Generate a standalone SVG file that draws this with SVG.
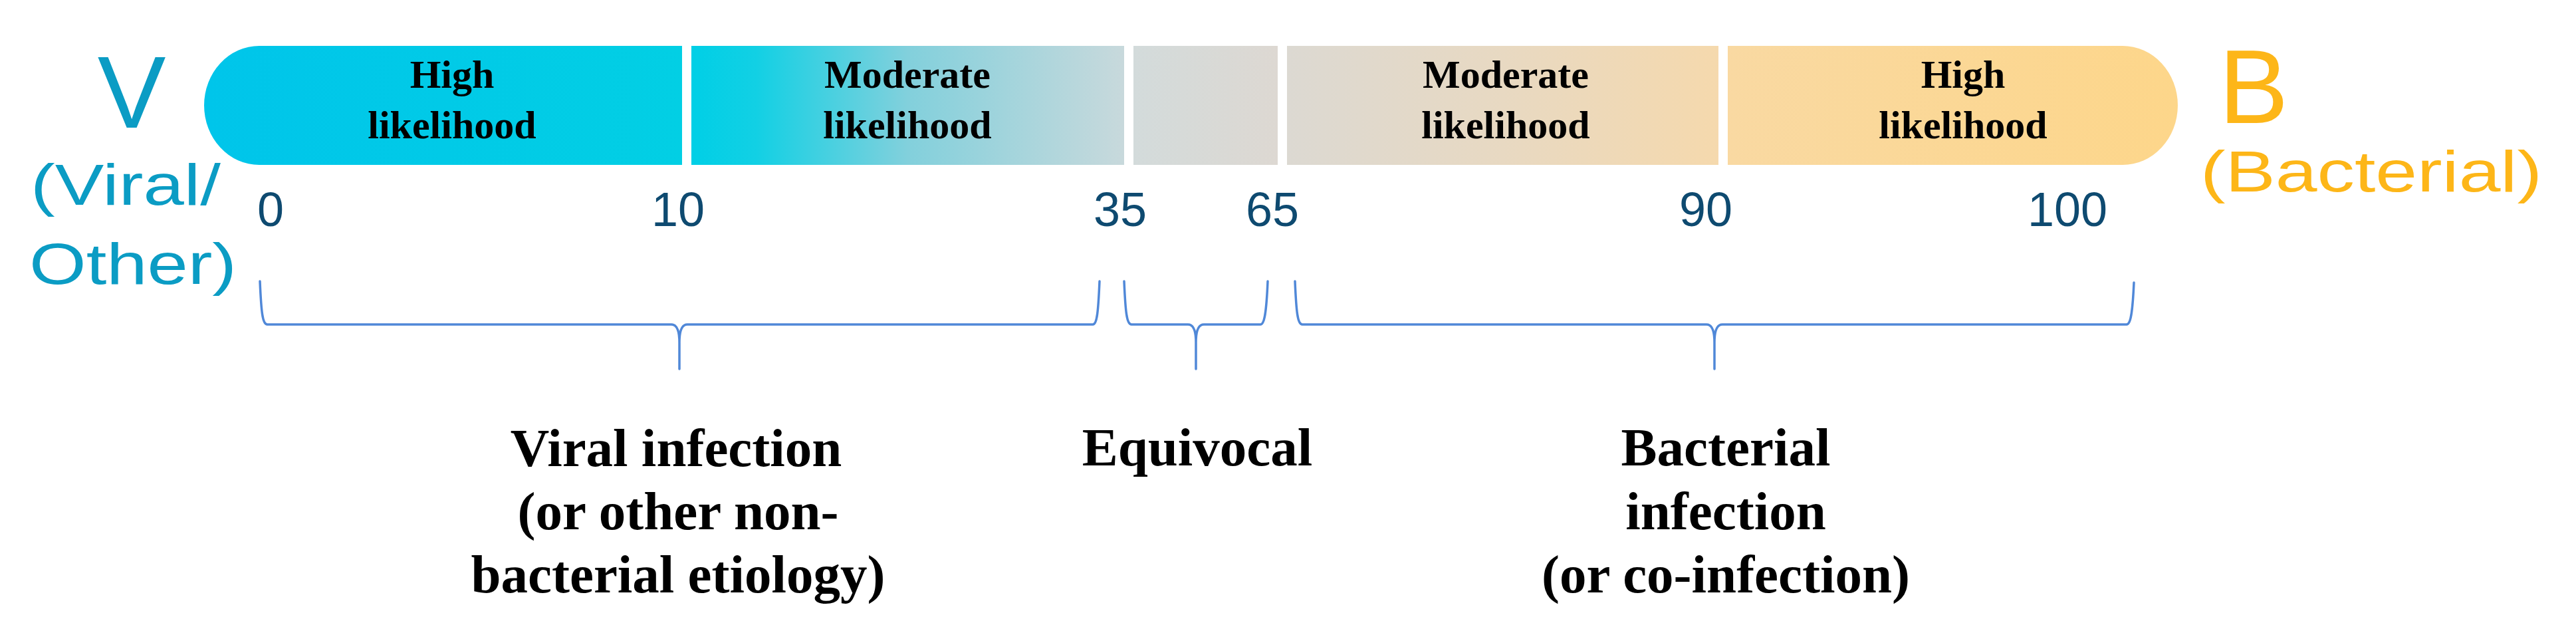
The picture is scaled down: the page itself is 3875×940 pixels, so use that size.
<svg xmlns="http://www.w3.org/2000/svg" width="3875" height="940" viewBox="0 0 3875 940">
<defs>
<linearGradient id="g1" x1="0" y1="0" x2="1" y2="0">
<stop offset="0" stop-color="#00c5ea"/><stop offset="1" stop-color="#02cfe4"/>
</linearGradient>
<linearGradient id="g2" x1="0" y1="0" x2="1" y2="0">
<stop offset="0" stop-color="#00cfe6"/><stop offset="0.15" stop-color="#12d0e4"/><stop offset="0.5" stop-color="#82d0dc"/><stop offset="1" stop-color="#c8d9dc"/>
</linearGradient>
<linearGradient id="g3" x1="0" y1="0" x2="1" y2="0">
<stop offset="0" stop-color="#d3dbdb"/><stop offset="1" stop-color="#ddd8d2"/>
</linearGradient>
<linearGradient id="g4" x1="0" y1="0" x2="1" y2="0">
<stop offset="0" stop-color="#dcd9d2"/><stop offset="0.5" stop-color="#e8d9c2"/><stop offset="1" stop-color="#f5d9ad"/>
</linearGradient>
<linearGradient id="g5" x1="0" y1="0" x2="1" y2="0">
<stop offset="0" stop-color="#f9d9a2"/><stop offset="1" stop-color="#fdd68a"/>
</linearGradient>
</defs>
<style>
.seg{font-family:"Liberation Serif","Times New Roman",serif;font-weight:bold;font-size:60px;fill:#000;text-anchor:middle}
.num{font-family:"Liberation Sans",Arial,sans-serif;font-size:72px;fill:#0e4a70;text-anchor:middle}
.lab{font-family:"Liberation Serif","Times New Roman",serif;font-weight:bold;font-size:81px;fill:#000;text-anchor:middle}
.teal{font-family:"Liberation Sans",Arial,sans-serif;fill:#0b9cc4}
.gold{font-family:"Liberation Sans",Arial,sans-serif;fill:#fdb618}
.brace{fill:none;stroke:#5088d8;stroke-width:3.5;stroke-linejoin:round;stroke-linecap:round}
</style>
<rect width="3875" height="940" fill="#fff"/>

<g id="letter-v">
<text class="teal" x="198" y="192" font-size="154" text-anchor="middle">V</text>
<text class="teal" x="46" y="308" font-size="88" textLength="286" lengthAdjust="spacingAndGlyphs">(Viral/</text>
<text class="teal" x="44" y="427" font-size="88" textLength="312" lengthAdjust="spacingAndGlyphs">Other)</text>
</g>
<g id="letter-b">
<text class="gold" x="3390" y="185" font-size="157" text-anchor="middle">B</text>
<text class="gold" x="3310" y="288" font-size="88" textLength="514" lengthAdjust="spacingAndGlyphs">(Bacterial)</text>
</g>

<g id="seg1">
<path d="M390 69 H1026 V248 H390 A83 89.5 0 0 1 390 69 Z" fill="url(#g1)"/>
<text class="seg" x="680" y="132">High</text>
<text class="seg" x="680" y="208">likelihood</text>
</g>
<g id="seg2">
<rect x="1040" y="69" width="651" height="179" fill="url(#g2)"/>
<text class="seg" x="1365" y="132">Moderate</text>
<text class="seg" x="1365" y="208">likelihood</text>
</g>
<g id="seg3">
<rect x="1705" y="69" width="217" height="179" fill="url(#g3)"/>
</g>
<g id="seg4">
<rect x="1936" y="69" width="649" height="179" fill="url(#g4)"/>
<text class="seg" x="2265" y="132">Moderate</text>
<text class="seg" x="2265" y="208">likelihood</text>
</g>
<g id="seg5">
<path d="M2599 69 H3193 A83 89.5 0 0 1 3193 248 H2599 Z" fill="url(#g5)"/>
<text class="seg" x="2953" y="132">High</text>
<text class="seg" x="2953" y="208">likelihood</text>
</g>

<g id="scale">
<text class="num" x="407" y="340">0</text>
<text class="num" x="1020" y="340">10</text>
<text class="num" x="1685" y="340">35</text>
<text class="num" x="1914" y="340">65</text>
<text class="num" x="2566" y="340">90</text>
<text class="num" x="3110" y="340">100</text>
</g>

<g id="connectors">
<path class="brace" d="M391 423 C393 470 395 488 402 488 L1010 488 C1018 488 1022 496 1022 515 L1022 555 M1022 515 C1022 496 1026 488 1034 488 L1644 488 C1650 488 1652 470 1654 423"/>
<path class="brace" d="M1691 423 C1693 470 1695 488 1702 488 L1787 488 C1795 488 1799 496 1799 515 L1799 555 M1799 515 C1799 496 1803 488 1811 488 L1896 488 C1902 488 1905 470 1907 423"/>
<path class="brace" d="M1948 423 C1950 470 1952 488 1959 488 L2567 488 C2575 488 2579 496 2579 515 L2579 555 M2579 515 C2579 496 2583 488 2591 488 L3199 488 C3205 488 3208 470 3210 425"/>
</g>

<g id="label-viral">
<text class="lab" x="1017" y="701">Viral infection</text>
<text class="lab" x="1020" y="796">(or other non-</text>
<text class="lab" x="1020" y="891">bacterial etiology)</text>
</g>
<g id="label-equivocal">
<text class="lab" x="1801" y="700" font-size="87">Equivocal</text>
</g>
<g id="label-bacterial">
<text class="lab" x="2596" y="700">Bacterial</text>
<text class="lab" x="2596" y="796">infection</text>
<text class="lab" x="2596" y="891">(or co-infection)</text>
</g>
</svg>
